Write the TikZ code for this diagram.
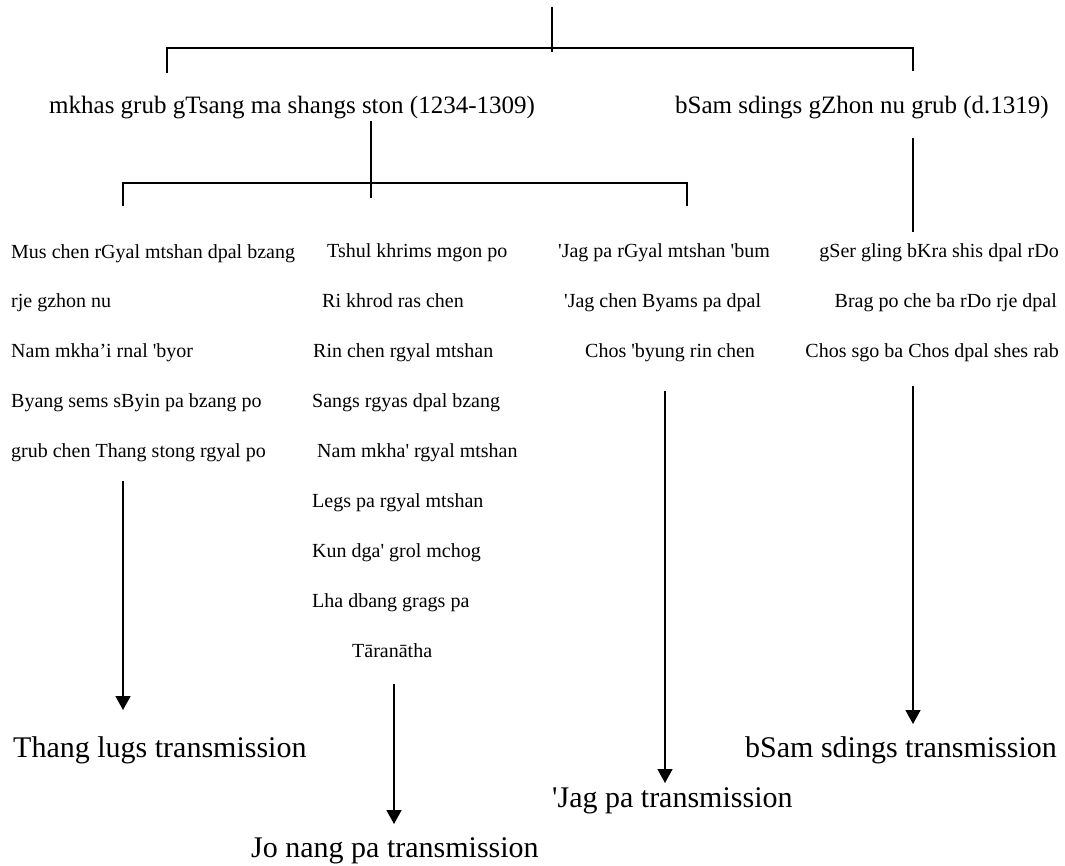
\documentclass[tikz,border=0pt]{standalone}
\usepackage{fontspec}
\setmainfont{Liberation Serif}[Ligatures=TeXOff]
\usetikzlibrary{arrows.meta}
\begin{document}
\begin{tikzpicture}[x=1pt,y=-1pt,
  ln/.style={line width=1.8pt},
  arr/.style={line width=1.6pt,-{Triangle[width=15pt,length=14pt]}},
  sm/.style={inner sep=0pt,font=\fontsize{20}{24}\selectfont},
  md/.style={inner sep=0pt,font=\fontsize{25}{30}\selectfont},
  lg/.style={inner sep=0pt,font=\fontsize{30}{36}\selectfont}]
\useasboundingbox (0,0) rectangle (1065,865);
% top level
\node[md,anchor=base west] (mkhas) at (49,113) {mkhas grub gTsang ma shangs ston (1234-1309)};
\node[md,anchor=base east] (bsam) at (1049,113) {bSam sdings gZhon nu grub (d.1319)};
\coordinate (t0) at (552,7);
\coordinate (t1) at (552,52);
\coordinate (hl) at (167,48);
\coordinate (hr) at (913,48);
\coordinate (hld) at (167,73);
\coordinate (hrd) at (913,71);
\draw[ln] (t0) -- (t1);
\draw[ln] (hld) -- (hl) -- (hr) -- (hrd);
% second level
\coordinate (m0) at (371,121);
\coordinate (m1) at (371,198);
\coordinate (bl) at (123,183);
\coordinate (br) at (687,183);
\coordinate (bld) at (123,206);
\coordinate (brd) at (687,206);
\draw[ln] (m0) -- (m1);
\draw[ln] (bld) -- (bl) -- (br) -- (brd);
\coordinate (s0) at (913,138);
\coordinate (s1) at (913,232);
\draw[ln] (s0) -- (s1);
% column 1
\node[sm,anchor=base west] (a1) at (11,258) {Mus chen rGyal mtshan dpal bzang};
\node[sm,anchor=base west] (a2) at (11,307) {rje gzhon nu};
\node[sm,anchor=base west] (a3) at (11,357) {Nam mkha’i rnal 'byor};
\node[sm,anchor=base west] (a4) at (11,407) {Byang sems sByin pa bzang po};
\node[sm,anchor=base west] (a5) at (11,457) {grub chen Thang stong rgyal po};
% column 2
\node[sm,anchor=base west] (b1) at (327,257) {Tshul khrims mgon po};
\node[sm,anchor=base west] (b2) at (322,307) {Ri khrod ras chen};
\node[sm,anchor=base west] (b3) at (313,357) {Rin chen rgyal mtshan};
\node[sm,anchor=base west] (b4) at (312,407) {Sangs rgyas dpal bzang};
\node[sm,anchor=base west] (b5) at (317,457) {Nam mkha' rgyal mtshan};
\node[sm,anchor=base west] (b6) at (312,507) {Legs pa rgyal mtshan};
\node[sm,anchor=base west] (b7) at (312,557) {Kun dga' grol mchog};
\node[sm,anchor=base west] (b8) at (312,607) {Lha dbang grags pa};
\node[sm,anchor=base west] (b9) at (352,657) {Tāranātha};
% column 3
\node[sm,anchor=base west] (c1) at (558,257) {'Jag pa rGyal mtshan 'bum};
\node[sm,anchor=base west] (c2) at (564,307) {'Jag chen Byams pa dpal};
\node[sm,anchor=base west] (c3) at (585,357) {Chos 'byung rin chen};
% column 4
\node[sm,anchor=base east] (d1) at (1059,257) {gSer gling bKra shis dpal rDo};
\node[sm,anchor=base east] (d2) at (1057,307) {Brag po che ba rDo rje dpal};
\node[sm,anchor=base east] (d3) at (1059,357) {Chos sgo ba Chos dpal shes rab};
% transmissions
\node[lg,anchor=base west] (e1) at (13,757) {Thang lugs transmission};
\node[lg,anchor=base west] (e2) at (251,857) {Jo nang pa transmission};
\node[lg,anchor=base west] (e3) at (552,807) {'Jag pa transmission};
\node[lg,anchor=base west] (e4) at (745,757) {bSam sdings transmission};
% arrows
\coordinate (p1) at (123,481); \coordinate (q1) at (123,710);
\coordinate (p2) at (394,684); \coordinate (q2) at (394,824);
\coordinate (p3) at (665,391); \coordinate (q3) at (665,783);
\coordinate (p4) at (913,386); \coordinate (q4) at (913,724);
\draw[arr] (p1) -- (q1);
\draw[arr] (p2) -- (q2);
\draw[arr] (p3) -- (q3);
\draw[arr] (p4) -- (q4);
\end{tikzpicture}
\end{document}
